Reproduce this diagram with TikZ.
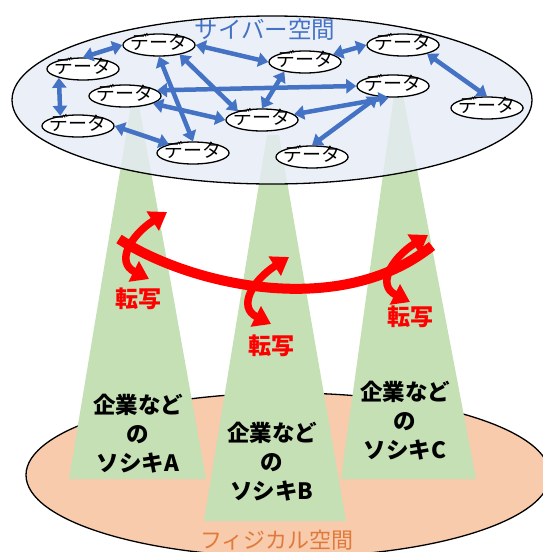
\documentclass[tikz,border=0pt]{standalone}
\usepackage{fontspec}
\setmainfont{Noto Sans CJK JP}
\usetikzlibrary{shapes.geometric,arrows.meta}
\definecolor{linkblue}{HTML}{4472C4}
\definecolor{cyberfill}{HTML}{E6ECF6}
\definecolor{physfill}{HTML}{F8CBAD}
\definecolor{orgfill}{HTML}{C5E0B4}
\definecolor{phystext}{HTML}{E07A3C}

\begin{document}
\begin{tikzpicture}[x=1pt, y=-1pt,
    space/.style={ellipse, draw, line width=1.3pt, inner sep=0pt},
    data/.style={ellipse, draw, line width=1.3pt, fill=white, inner ysep=0pt, inner xsep=-3pt, minimum width=72pt, minimum height=22pt, text height=12pt, text depth=3pt, font=\fontsize{19pt}{19pt}\selectfont},
    link/.style={draw=linkblue, line width=4.5pt, {Triangle[length=10pt,width=14pt]}-{Triangle[length=10pt,width=14pt]}},
    org/.style={fill=orgfill},
    orgtext/.style={align=center, font=\fontsize{22.5pt}{29pt}\selectfont\bfseries},
    xferlabel/.style={text=red, font=\fontsize{23pt}{23pt}\selectfont\bfseries},
    xfer/.style={draw=red, line width=7.5pt, {Triangle[length=17pt,width=22pt]}-{Triangle[length=17pt,width=22pt]}},
    pics/xferarrow/.style={code={\draw[xfer] (19,30) .. controls (-15,13) and (1,-14) .. (37,-37);}}
  ]
    \useasboundingbox (0,0) rectangle (542,552);

    \node[space, fill=physfill, minimum width=524pt, minimum height=164pt] (physical) at (288,475) {};
    \node[text=phystext, font=\fontsize{22pt}{22pt}\selectfont] (physlabel) at (277,540) {フィジカル空間};

    \fill[org] (131,105) -- (139,105) -- (206,479) -- (69,479) -- cycle;
    \fill[org] (394,95) -- (403,95) -- (476,479) -- (341,479) -- cycle;
    \fill[org] (267,135) -- (279,135) -- (346,521) -- (204,521) -- cycle;

    \node[orgtext] (orgA) at (138,434) {企業など\\の\\ソシキA};
    \node[orgtext] (orgB) at (272,462) {企業など\\の\\ソシキB};
    \node[orgtext] (orgC) at (405,421) {企業など\\の\\ソシキC};

    \node[space, fill=cyberfill, fill opacity=0.8, minimum width=520pt, minimum height=168pt] (cyber) at (272,100) {};
    \node[text=linkblue, font=\fontsize{23.5pt}{23.5pt}\selectfont] (cyberlabel) at (265,30) {サイバー空間};

    \node[data] (data1) at (159,45) {データ};
    \node[data] (data2) at (83,69) {データ};
    \node[data] (data3) at (125,96) {データ};
    \node[data] (data4) at (78,126) {データ};
    \node[data] (data5) at (193,153) {データ};
    \node[data] (data6) at (262,120) {データ};
    \node[data] (data7) at (305,62) {データ};
    \node[data] (data8) at (403,45) {データ};
    \node[data] (data9) at (393,86) {データ};
    \node[data] (data10) at (487,108) {データ};
    \node[data] (data11) at (312,157) {データ};

    \draw[link] (data2.north) -- (data1.west);
    \draw[link] (data2.200) -- (data4.150);
    \draw[link] (data1.east) -- (data7.west);
    \draw[link] (data7.15) -- (data8.west);
    \draw[link] (data8.-20) -- (data10.north);
    \draw[link] (data4.east) -- (data5.160);
    \draw[link] (data1.south) -- (data5.north);
    \draw[link] (data1.-25) -- (data6.160);
    \draw[link] (data3.10) -- (data9.west);
    \draw[link] (data3.-15) -- (data6.west);
    \draw[link] (data7.205) -- (data6.north);
    \draw[link] (data6.10) -- (data9.250);
    \draw[link] (data9.215) -- (data11.north);

    \coordinate (arcL) at (119,239);
    \coordinate (arcR) at (432,246);
    \draw[red, line width=10pt] (arcL) .. controls (190,285) and (340,320) .. (arcR);

    \pic at (130,249) {xferarrow};
    \pic at (252,294) {xferarrow};
    \pic at (391,272) {xferarrow};

    \node[xferlabel] (xferA) at (138,299) {転写};
    \node[xferlabel] (xferB) at (271,346) {転写};
    \node[xferlabel] (xferC) at (410,317) {転写};
  \end{tikzpicture}
\end{document}
